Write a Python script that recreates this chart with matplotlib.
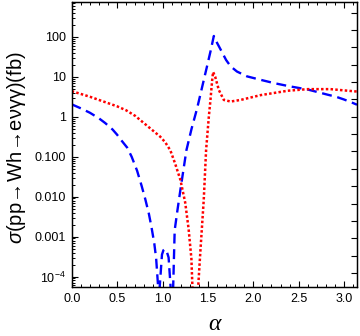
import numpy as np
import matplotlib
matplotlib.use("Agg")
import matplotlib.pyplot as plt
from matplotlib.ticker import FixedLocator, FixedFormatter, LogLocator, NullFormatter, NullLocator

plt.rcParams['font.family'] = ['Liberation Sans', 'DejaVu Sans']
plt.rcParams['mathtext.fontset'] = 'custom'
plt.rcParams['mathtext.rm'] = 'Liberation Sans'
plt.rcParams['mathtext.it'] = 'Liberation Sans:italic'
plt.rcParams['mathtext.fallback'] = 'stixsans'

# blue dashed curve: alpha and log10(sigma / fb)
blue_alpha = [0.00, 0.10, 0.20, 0.30, 0.37, 0.45, 0.50, 0.55, 0.61, 0.66, 0.72, 0.77,
              0.81, 0.85, 0.88, 0.91, 0.93, 0.95,
              0.960, 0.968, 0.994, 1.010, 1.025, 1.045, 1.067, 1.090, 1.097,
              1.134, 1.165, 1.197, 1.263, 1.32, 1.38, 1.49, 1.53, 1.565,
              1.60, 1.64, 1.70, 1.75, 1.82, 1.93, 2.05, 2.23, 2.40, 2.60, 2.82,
              2.91, 3.00, 3.09, 3.1416]
blue_log = [0.31, 0.21, 0.10, -0.04, -0.16, -0.32, -0.45, -0.60, -0.77, -1.00, -1.35, -1.73,
            -2.06, -2.43, -2.78, -3.18, -3.55, -4.20,
            -6.0, -4.29, -3.45, -3.34, -3.31, -3.36, -3.52, -4.29, -6.0,
            -2.84, -2.33, -1.83, -0.84, -0.30, 0.20, 1.26, 1.65, 2.02,
            1.85, 1.68, 1.42, 1.26, 1.13, 1.01, 0.94, 0.84, 0.76, 0.68, 0.55,
            0.50, 0.43, 0.35, 0.30]

# red dotted curve
red_alpha = [0.00, 0.10, 0.20, 0.30, 0.40, 0.50, 0.60, 0.70, 0.79, 0.88, 0.975, 1.03,
             1.086, 1.14, 1.197, 1.25, 1.287, 1.318, 1.330,
             1.36, 1.392, 1.405, 1.418, 1.454, 1.48, 1.51, 1.528, 1.547, 1.557, 1.58, 1.62,
             1.675, 1.75, 1.86, 2.08, 2.38, 2.60, 2.85, 3.09, 3.1416]
red_log = [0.64, 0.57, 0.50, 0.42, 0.34, 0.26, 0.16, 0.02, -0.15, -0.32, -0.50, -0.64,
           -0.84, -1.18, -1.58, -2.15, -2.80, -3.55, -4.30,
           -6.0, -4.29, -3.80, -3.33, -2.08, -0.83, 0.00, 0.42, 0.92, 1.12, 1.00, 0.67,
           0.42, 0.38, 0.42, 0.54, 0.65, 0.69, 0.69, 0.64, 0.63]

ytick_vals = [1e-4, 1e-3, 1e-2, 1e-1, 1, 10, 100]
ytick_labels = [r'$10^{-4}$', '0.001', '0.010', '0.100', '1', '10', '100']

fig = plt.figure(figsize=(3.6, 3.36), dpi=100)
ax = fig.add_axes([71.7 / 360, 1 - 287 / 336, (357 - 71.7) / 360, (287 - 2) / 336])

ax.plot(blue_alpha, 10 ** np.array(blue_log), color='#0000ff', lw=1.7,
        linestyle=(0, (4.2, 2.4)))
ax.plot(red_alpha, 10 ** np.array(red_log), color='#ff0000', lw=1.8,
        linestyle=(0, (1.0, 0.9)))

ax.set_yscale('log')
ax.set_xlim(0, np.pi)
ax.set_ylim(10 ** -4.26, 10 ** 2.87)

ax.yaxis.set_major_locator(FixedLocator(ytick_vals))
ax.yaxis.set_major_formatter(FixedFormatter(ytick_labels))
ax.yaxis.set_minor_locator(LogLocator(base=10, subs=np.arange(2, 10)))
ax.yaxis.set_minor_formatter(NullFormatter())

ax.set_xticks([0.0, 0.5, 1.0, 1.5, 2.0, 2.5, 3.0])
ax.set_xticklabels(['0.0', '0.5', '1.0', '1.5', '2.0', '2.5', '3.0'])
ax.set_xticks(np.arange(0, 3.15, 0.1), minor=True)

ax.tick_params(which='both', direction='in', top=True, right=False, labelsize=9, pad=4)
ax.tick_params(which='major', length=4, width=0.8)
ax.tick_params(which='minor', length=2, width=0.7)

# right frame ticks (unlabelled)
ax2 = ax.twinx()
ax2.set_yscale('log')
ax2.set_ylim(ax.get_ylim())
ax2.yaxis.set_major_locator(FixedLocator(np.exp(np.arange(-9, 7))))
ax2.yaxis.set_major_formatter(NullFormatter())
ax2.yaxis.set_minor_locator(NullLocator())
ax2.tick_params(which='major', direction='in', length=4, width=0.8)

for a in (ax, ax2):
    for s in a.spines.values():
        s.set_linewidth(0.9)

ylab = (r'$\mathit{\sigma}\mathrm{(pp}\!\rightarrow\!\mathrm{Wh}\!\rightarrow\!'
        r'\mathrm{e\nu\gamma\gamma)(fb)}$')
fig.text(16.5 / 360, 1 - 148 / 336, ylab,
         rotation=90, ha='center', va='center', fontsize=14.5)
fig.text(214 / 360, 1 - 325 / 336, 'α', ha='center', va='center', fontsize=17,
         family='Liberation Serif', style='italic')

fig.savefig('out.png', dpi=100)
